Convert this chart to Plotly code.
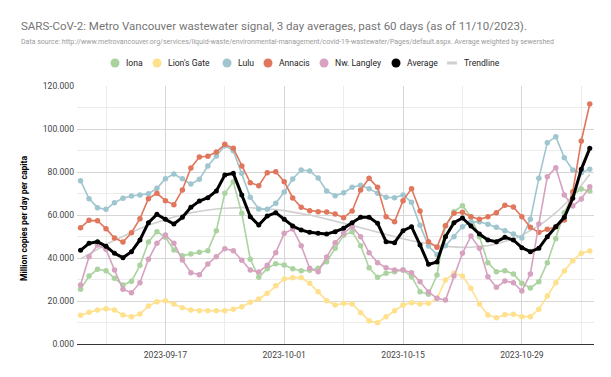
import numpy as np
import pandas as pd
import plotly.graph_objects as go

dates = pd.date_range("2023-09-07", "2023-11-06", freq="D")

iona = [25.43, 31.63, 34.73, 34.11, 30.54, 27.44, 29.15, 36.59, 47.44, 52.25, 49.61, 43.72, 41.09, 41.86, 42.64, 43.41,
        52.71, 70.08, 75.50, 60.78, 39.38, 31.01, 35.04, 37.36, 36.74, 35.04, 34.11, 34.26, 35.19, 38.29, 44.50,
        50.54, 52.25, 45.74, 35.50, 31.01, 32.87, 33.64, 34.42, 31.32, 24.34, 23.10, 32.09, 55.00, 61.55, 64.34, 59.23,
        49.92, 37.83, 33.64, 34.11, 32.56, 28.22, 26.05, 28.99, 37.83, 48.99, 61.09, 69.30, 72.09, 71.16]
lions_gate = [13.33, 14.73, 15.81, 16.43, 15.81, 13.49, 12.71, 13.95, 17.67, 19.69, 20.15, 18.60, 16.90, 15.81, 15.50, 15.50,
              15.50, 15.50, 16.12, 17.36, 19.38, 20.93, 23.57, 27.13, 30.23, 30.85, 30.85, 28.22, 24.34, 20.15, 18.14,
              18.91, 18.60, 14.57, 10.85, 9.92, 12.71, 15.50, 18.14, 19.22, 18.60, 18.91, 21.24, 29.77, 32.87, 31.63, 25.89,
              18.60, 13.49, 12.25, 13.64, 13.80, 12.71, 12.71, 16.12, 22.33, 28.53, 33.95, 38.76, 42.17, 43.26]
lulu = [75.97, 67.60, 63.41, 62.64, 65.74, 67.75, 68.84, 69.30, 69.92, 72.40, 76.90, 79.07, 76.90, 74.42, 76.59, 82.79,
        87.44, 92.25, 89.92, 79.38, 68.22, 62.79, 62.64, 65.43, 70.70, 76.74, 80.93, 80.47, 77.21, 71.16, 68.99,
        70.39, 72.87, 73.80, 72.25, 70.08, 68.22, 68.06, 69.30, 65.89, 55.19, 45.58, 41.55, 45.74, 49.92, 54.57, 56.70,
        56.90, 55.66, 54.26, 52.71, 51.16, 49.30, 57.98, 77.05, 93.64, 96.43, 86.67, 80.93, 79.69, 81.24]
annacis = [54.11, 57.52, 57.36, 53.64, 49.30, 47.44, 51.78, 58.29, 67.60, 70.08, 66.67, 64.81, 71.63, 81.86, 86.98, 87.29,
           89.30, 92.87, 91.01, 82.79, 75.04, 73.64, 79.69, 80.15, 75.50, 67.91, 63.57, 62.02, 61.55, 61.40, 60.47,
           58.76, 61.86, 71.63, 77.05, 72.87, 59.23, 56.90, 66.67, 72.25, 61.86, 47.60, 44.96, 55.04, 60.78, 61.24, 59.23,
           57.98, 59.23, 61.09, 64.50, 63.72, 59.23, 54.26, 51.94, 53.33, 54.57, 57.67, 70.85, 94.42, 111.63]
nw_langley = [27.44, 40.62, 46.05, 44.03, 34.42, 25.43, 23.88, 28.53, 39.38, 46.82, 50.70, 46.82, 39.07, 33.18, 32.25, 37.21,
              40.62, 44.34, 43.41, 38.91, 34.42, 33.49, 36.59, 42.48, 51.47, 53.49, 45.74, 35.19, 33.64, 40.47, 47.13,
              51.47, 54.57, 49.92, 42.48, 37.83, 35.50, 34.42, 34.42, 33.18, 28.99, 24.19, 21.24, 20.47, 31.63, 42.17, 50.23,
              44.50, 31.32, 26.36, 29.30, 28.53, 24.65, 32.56, 55.81, 77.83, 82.02, 69.30, 64.19, 67.44, 73.18]
average = [43.57, 46.82, 47.60, 45.43, 42.17, 40.15, 42.95, 48.37, 56.43, 60.31, 57.98, 55.81, 58.92, 63.57, 66.51, 68.06,
           71.16, 78.60, 79.38, 69.30, 59.23, 55.35, 59.54, 61.09, 57.98, 54.88, 53.02, 51.94, 51.47, 51.16, 52.25,
           53.80, 56.43, 58.92, 58.92, 56.12, 47.60, 47.13, 52.71, 54.57, 46.05, 37.05, 38.14, 49.92, 56.43, 58.60, 54.88,
           51.16, 48.37, 47.60, 49.61, 48.37, 44.81, 42.95, 44.50, 49.92, 54.57, 58.92, 67.75, 81.24, 91.01]

# polynomial trendline of the Average series
t = np.arange(len(average))
trend = np.polyval(np.polyfit(t, average, 4), t)

TREND_COLOR = "#d0d0d0"
series = [
    ("Iona", iona, "#aad3a0"),
    ("Lion's Gate", lions_gate, "#fee08d"),
    ("Lulu", lulu, "#9fc6cf"),
    ("Annacis", annacis, "#e0775d"),
    ("Nw. Langley", nw_langley, "#d6a2c0"),
]

fig = go.Figure()

fig.add_trace(go.Scatter(x=dates, y=trend, mode="lines", name="Trendline",
                         line=dict(color=TREND_COLOR, width=1.6), hoverinfo="skip"))

for name, vals, col in series:
    fig.add_trace(go.Scatter(x=dates, y=vals, mode="lines+markers", name=name,
                             line=dict(color=col, width=1.6),
                             marker=dict(color=col, size=5.5)))

fig.add_trace(go.Scatter(x=dates, y=average, mode="lines+markers", name="Average",
                         line=dict(color="#000000", width=3),
                         marker=dict(color="#000000", size=5)))

# page is offset by the default 8px body margin
OFF = 8
PAGE_W, PAGE_H = 611, 377
W, H = PAGE_W - OFF, PAGE_H - OFF
PL, PT, PR, PB = 77, 86, 594, 344          # plot area in page pixels
L, T, R, B = PL - OFF, PT - OFF, PAGE_W - PR, PAGE_H - PB
pw, ph = PR - PL, PB - PT


def px(xp):
    return (xp - PL) / pw


def py(yp):
    return (PB - yp) / ph


FONT_SMALL = 8.6

annotations = [
    dict(text="SARS-CoV-2: Metro Vancouver wastewater signal, 3 day averages, past 60 days (as of 11/10/2023).",
         xref="paper", yref="paper", x=px(18.5), y=py(26), xanchor="left", yanchor="middle",
         showarrow=False, font=dict(size=11.5, color="#757575")),
    dict(text="Data source: http://www.metrovancouver.org/services/liquid-waste/environmental-management/covid-19-wastewater/Pages/default.aspx. Average weighted by sewershed",
         xref="paper", yref="paper", x=px(18.5), y=py(42), xanchor="left", yanchor="middle",
         showarrow=False, font=dict(size=7, color="#9a9a9a")),
    dict(text="<b>Million copies per day per capita</b>",
         xref="paper", yref="paper", x=px(24), y=py(219), xanchor="center", yanchor="middle",
         textangle=-90, showarrow=False, font=dict(size=FONT_SMALL, color="#000000")),
]
shapes = []

# legend row (swatch x-centres in page pixels)
legend_y = 63
legend_items = [(n, c) for n, _, c in series] + [("Average", "#000000")]
swatch_x = [115, 157, 227, 268, 324, 396]
for (name, col), sx in zip(legend_items, swatch_x):
    shapes.append(dict(type="circle", xref="paper", yref="paper",
                       x0=px(sx - 4.5), x1=px(sx + 4.5), y0=py(legend_y + 4.5), y1=py(legend_y - 4.5),
                       fillcolor=col, line=dict(width=0)))
    annotations.append(dict(text=name, xref="paper", yref="paper", x=px(sx + 9), y=py(legend_y),
                            xanchor="left", yanchor="middle", showarrow=False,
                            font=dict(size=FONT_SMALL, color="#222222")))
shapes.append(dict(type="line", xref="paper", yref="paper", x0=px(447), x1=px(457),
                   y0=py(legend_y), y1=py(legend_y), line=dict(color=TREND_COLOR, width=3)))
annotations.append(dict(text="Trendline", xref="paper", yref="paper", x=px(462), y=py(legend_y),
                        xanchor="left", yanchor="middle", showarrow=False,
                        font=dict(size=FONT_SMALL, color="#222222")))

fig.update_layout(
    width=W, height=H,
    margin=dict(l=L, r=R, t=T, b=B, pad=0),
    paper_bgcolor="white", plot_bgcolor="white",
    font=dict(family="Roboto, Arial, sans-serif", size=FONT_SMALL, color="#444444"),
    showlegend=False,
    annotations=annotations,
    shapes=shapes,
    xaxis=dict(
        range=["2023-09-06 14:00", "2023-11-06 12:00"],
        tick0="2023-09-17", dtick=14 * 86400000, tickformat="%Y-%m-%d",
        showgrid=True, gridcolor="#d6d6d6", gridwidth=1,
        minor=dict(dtick=7 * 86400000, showgrid=True, gridcolor="#ececec", gridwidth=1),
        showline=True, linecolor="#333333", linewidth=1,
        ticks="", zeroline=False, ticklabelstandoff=3,
        tickfont=dict(size=FONT_SMALL, color="#444444"),
    ),
    yaxis=dict(
        range=[0, 120], dtick=20, tickformat=".3f",
        showgrid=True, gridcolor="#d6d6d6", gridwidth=1,
        minor=dict(dtick=10, showgrid=True, gridcolor="#ececec", gridwidth=1),
        zeroline=False, showline=False, ticks="",
        ticklabelstandoff=2,
        tickfont=dict(size=FONT_SMALL, color="#444444"),
    ),
)

fig.write_html("out.html")
